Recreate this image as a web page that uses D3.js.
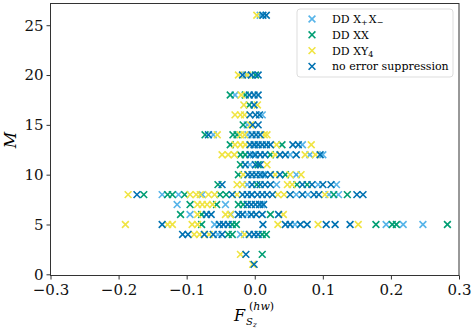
<!DOCTYPE html>
<html>
<head>
<meta charset="utf-8">
<script src="https://cdn.jsdelivr.net/npm/d3@7"></script>
<style>
body { margin: 0; background: #fff; }
svg { font-family: "DejaVu Serif", serif; }
.axis path, .axis line { stroke: #333; }
.axis text { font-size: 15px; fill: #111; font-family: "DejaVu Serif", serif; }
</style>
</head>
<body>
<script>
var width = 476;
var height = 330;

// points as [F, M]
var ddXpXm = [
  [0.008, 26], [-0.013, 20], [-0.029, 18], [0.011, 16], [-0.011, 15],
  [-0.061, 14], [-0.010, 14], [0.070, 13], [0.000, 13],
  [0.052, 12], [0.081, 12], [-0.002, 12], [0.100, 12], [-0.007, 11],
  [0.061, 10], [0.012, 10], [-0.011, 9], [0.032, 9], [0.093, 9], [0.120, 9],
  [-0.136, 8], [-0.112, 8], [-0.077, 8], [0.061, 8], [0.078, 8], [0.109, 8], [0.123, 8], [-0.005, 8],
  [-0.114, 7], [-0.043, 7], [0.010, 7],
  [-0.095, 6], [-0.011, 6], [-0.035, 6],
  [-0.059, 5], [0.059, 5], [0.193, 5], [0.218, 5], [0.247, 5],
  [-0.054, 4], [-0.021, 4]
];
var ddXX = [
  [0.001, 20], [-0.036, 18], [-0.014, 18], [-0.008, 17], [-0.017, 15],
  [-0.073, 14], [-0.032, 14], [-0.026, 14],
  [-0.036, 13], [0.040, 13],
  [-0.021, 12], [-0.014, 12], [0.023, 12],
  [-0.021, 11], [0.005, 11],
  [-0.024, 10], [0.045, 10],
  [-0.054, 9], [0.003, 9], [0.062, 9], [0.077, 9],
  [-0.163, 8], [-0.128, 8], [-0.121, 8], [-0.103, 8], [-0.051, 8], [-0.042, 8], [0.116, 8], [0.136, 8],
  [-0.095, 7], [-0.056, 7], [-0.024, 7], [-0.017, 7],
  [-0.109, 6], [-0.078, 6], [0.023, 6],
  [-0.078, 5], [-0.033, 5], [-0.027, 5], [0.178, 5], [0.202, 5], [0.208, 5], [0.283, 5],
  [-0.039, 4], [-0.033, 4], [0.011, 4], [0.017, 4],
  [0.011, 2]
];
var ddXY4 = [
  [0.003, 26], [-0.024, 20], [-0.011, 20], [-0.020, 18], [-0.016, 17], [0.004, 17],
  [-0.029, 16], [-0.021, 16], [-0.015, 16], [-0.006, 15],
  [-0.055, 14], [-0.021, 14], [-0.015, 14], [0.014, 14], [0.018, 14],
  [-0.029, 13], [-0.021, 13], [-0.014, 13], [0.032, 13], [0.083, 13],
  [-0.048, 12], [-0.039, 12], [-0.030, 12], [0.030, 12], [0.074, 12], [0.089, 12],
  [0.018, 11],
  [-0.017, 10], [0.030, 10], [0.052, 10], [0.068, 10],
  [-0.026, 9], [-0.018, 9], [0.048, 9], [0.055, 9],
  [-0.186, 8], [-0.095, 8], [-0.086, 8], [-0.080, 8], [-0.068, 8], [-0.059, 8], [-0.026, 8],
  [0.034, 8], [0.043, 8], [0.103, 8],
  [-0.084, 7], [-0.077, 7], [-0.070, 7], [-0.062, 7],
  [-0.084, 6], [-0.043, 6], [-0.036, 6], [0.042, 6],
  [-0.190, 5], [-0.128, 5], [-0.121, 5], [-0.092, 5], [-0.084, 5], [0.034, 5], [0.093, 5], [0.152, 5],
  [-0.089, 4], [-0.081, 4], [-0.067, 4], [-0.015, 4],
  [-0.021, 2], [-0.003, 1]
];
var noSupp = [
  [0.012, 26], [0.017, 26], [-0.018, 20], [-0.005, 20], [0.005, 20],
  [-0.008, 18], [-0.001, 18], [0.005, 18], [-0.001, 17],
  [-0.007, 16], [0.001, 16], [0.007, 16], [-0.003, 15], [0.005, 15],
  [-0.068, 14], [-0.004, 14], [0.002, 14], [0.008, 14],
  [-0.007, 13], [-0.001, 13], [0.005, 13], [0.011, 13], [0.017, 13], [0.023, 13], [0.056, 13], [0.064, 13],
  [-0.007, 12], [0.001, 12], [0.008, 12], [0.015, 12], [0.037, 12], [0.045, 12], [0.061, 12], [0.096, 12],
  [-0.014, 11], [0.001, 11], [0.008, 11],
  [-0.010, 10], [-0.004, 10], [0.002, 10], [0.008, 10], [0.015, 10], [0.023, 10], [0.037, 10],
  [-0.048, 9], [-0.004, 9], [0.008, 9], [0.015, 9], [0.023, 9], [0.070, 9], [0.084, 9], [0.100, 9], [0.112, 9],
  [-0.173, 8], [-0.033, 8], [-0.018, 8], [-0.011, 8], [-0.004, 8], [0.004, 8], [0.011, 8], [0.018, 8],
  [0.026, 8], [0.052, 8], [0.070, 8], [0.087, 8], [0.094, 8], [0.150, 8], [0.159, 8],
  [-0.011, 7], [-0.005, 7], [0.001, 7], [0.007, 7], [0.013, 7],
  [-0.071, 6], [-0.064, 6], [-0.024, 6], [-0.018, 6], [-0.005, 6], [0.002, 6], [0.011, 6], [0.035, 6],
  [-0.136, 5], [-0.052, 5], [-0.046, 5], [-0.039, 5], [0.012, 5], [0.045, 5], [0.052, 5], [0.067, 5],
  [0.077, 5], [0.105, 5], [0.118, 5], [0.140, 5],
  [-0.106, 4], [-0.098, 4], [-0.074, 4], [-0.061, 4], [-0.048, 4], [-0.008, 4], [-0.001, 4], [0.005, 4],
  [-0.013, 2], [-0.001, 1]
];

var seriesColors = ["#56B4E9", "#009E73", "#F0E442", "#0072B2"];
var seriesData = [ddXpXm, ddXX, ddXY4, noSupp];
var xTicks = [-0.3, -0.2, -0.1, 0.0, 0.1, 0.2, 0.3];
var yTicks = [0, 5, 10, 15, 20, 25];

var svg = d3.select("body").append("svg")
    .attr("width", width)
    .attr("height", height);

var x = d3.scaleLinear().domain([-0.3, 0.3]).range([50.5, 459]);
var y = d3.scaleLinear().domain([-0.12, 27.2]).range([275.5, 3.3]);

var ms = 3.4;
function cross(cx, cy) {
    return "M" + (cx - ms) + "," + (cy - ms) + "L" + (cx + ms) + "," + (cy + ms) +
        "M" + (cx - ms) + "," + (cy + ms) + "L" + (cx + ms) + "," + (cy - ms);
}

// points, drawn in legend order so blue ends on top
seriesData.forEach(function (data, i) {
    svg.append("g").selectAll("path").data(data).enter()
        .append("path")
        .attr("d", function (d) { return cross(x(d[0]), y(d[1])); })
        .attr("stroke", seriesColors[i])
        .attr("stroke-width", 1.6)
        .attr("fill", "none");
});

// frame
svg.append("rect")
    .attr("x", 50.5).attr("y", 3.5)
    .attr("width", 459 - 50.5).attr("height", 275.5 - 3.5)
    .attr("fill", "none").attr("stroke", "#333").attr("stroke-width", 1);

var xAxis = svg.append("g").classed("axis", true)
    .attr("transform", "translate(0,275.5)")
    .call(d3.axisBottom(x).tickValues(xTicks).tickFormat(d3.format(".1f")).tickSize(4).tickSizeOuter(0).tickPadding(5));
var yAxis = svg.append("g").classed("axis", true)
    .attr("transform", "translate(50.5,0)")
    .call(d3.axisLeft(y).tickValues(yTicks).tickSize(4).tickSizeOuter(0).tickPadding(3));
xAxis.select(".domain").remove();
yAxis.select(".domain").remove();

// axis labels
svg.append("text")
    .attr("transform", "translate(16,140) rotate(-90)")
    .attr("text-anchor", "middle")
    .style("font-size", "16px").style("font-style", "italic")
    .text("M");

var xl = svg.append("g").attr("transform", "translate(234,321)");
xl.append("text").style("font-size", "16px").style("font-style", "italic").text("F");
xl.append("text").attr("x", 12).attr("y", 4).style("font-size", "10px").style("font-style", "italic").text("S");
xl.append("text").attr("x", 19).attr("y", 6).style("font-size", "7px").style("font-style", "italic").text("z");
xl.append("text").attr("x", 15).attr("y", -11).style("font-size", "11px")
    .html('(<tspan font-style="italic">hw</tspan>)');

// legend
var lg = svg.append("g").attr("transform", "translate(297,9)");
lg.append("rect")
    .attr("width", 156).attr("height", 68).attr("rx", 3)
    .attr("fill", "#fff").attr("fill-opacity", 0.8)
    .attr("stroke", "#ddd").attr("stroke-width", 1);

var labels = [
    ['DD X', ['+', 'sub'], 'X', ['−', 'sub']],
    ['DD XX'],
    ['DD XY', ['4', 'sub']],
    ['no error suppression']
];
labels.forEach(function (parts, i) {
    var ly = 10 + i * 15.8;
    lg.append("path")
        .attr("d", cross(15, ly))
        .attr("stroke", seriesColors[i]).attr("stroke-width", 1.6).attr("fill", "none");
    var t = lg.append("text").attr("x", 35).attr("y", ly + 4).style("font-size", "11px");
    parts.forEach(function (p) {
        if (typeof p === "string") {
            t.append("tspan").text(p);
        } else {
            t.append("tspan").attr("dy", 2).style("font-size", "8px").text(p[0]);
            t.append("tspan").attr("dy", -2).text("\u200a");
        }
    });
});
</script>
</body>
</html>
